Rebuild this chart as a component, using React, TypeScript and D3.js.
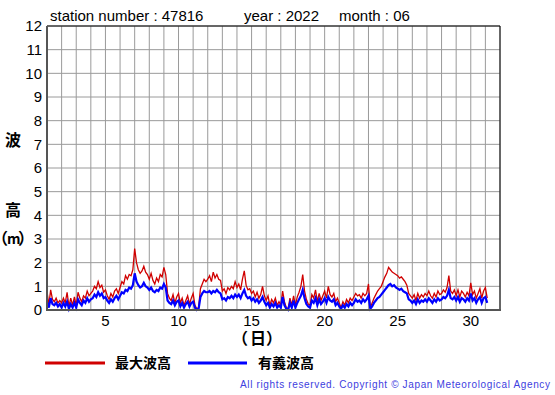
import React from 'react';
import * as d3 from 'd3';

// 3-hourly samples from June 1 00:00
const maxHeight = [
  0.8, 0.2, 0.85, 0.45, 0.35, 0.5, 0.3, 0.4, // 1
  0.3, 0.5, 0.3, 0.75, 0.15, 0.5, 0.2, 0.55, // 2
  0.2, 0.75, 0.5, 0.35, 0.6, 0.5, 0.8, 0.6, // 3
  0.7, 0.8, 1.0, 0.9, 1.2, 0.95, 1.05, 0.75, // 4
  0.85, 0.6, 0.45, 0.7, 0.55, 0.8, 0.9, 0.7, // 5
  0.95, 1.2, 1.1, 1.45, 1.3, 1.5, 1.45, 1.7, // 6
  2.6, 2.0, 1.7, 1.55, 1.65, 1.85, 1.6, 1.5, // 7
  1.3, 1.55, 1.25, 1.1, 1.35, 1.2, 1.5, 1.4, // 8
  1.8, 1.5, 0.7, 0.5, 0.4, 0.65, 0.3, 0.55, // 9
  0.7, 0.3, 0.5, 0.2, 0.4, 0.6, 0.25, 0.5, // 10
  0.7, 0.2, 0.05, 0.1, 0.9, 1.1, 1.3, 1.2, // 11
  1.3, 1.45, 1.2, 1.6, 1.35, 1.5, 1.3, 1.25, // 12
  0.8, 0.9, 0.7, 0.95, 0.85, 1.0, 0.9, 1.2, // 13
  0.95, 1.1, 0.85, 1.3, 1.65, 1.05, 0.85, 0.9, // 14
  0.7, 0.8, 0.55, 0.75, 0.5, 0.65, 1.0, 0.6, // 15
  0.4, 0.6, 0.2, 0.45, 0.3, 0.5, 0.2, 0.35, // 16
  0.2, 0.8, 0.35, 0.1, 0.05, 0.5, 0.2, 0.6, // 17
  0.2, 0.55, 0.75, 1.0, 1.5, 0.8, 0.45, 0.25, // 18
  0.2, 0.65, 0.5, 0.85, 0.35, 0.7, 0.4, 0.6, // 19
  0.8, 0.5, 1.0, 0.65, 0.55, 0.7, 0.35, 0.5, // 20
  0.3, 0.1, 0.35, 0.2, 0.45, 0.3, 0.5, 0.4, // 21
  0.55, 0.7, 0.6, 0.65, 0.5, 0.7, 0.6, 0.7, // 22
  1.1, 0.1, 0.3, 0.5, 0.65, 0.8, 0.9, 1.0, // 23
  1.2, 1.4, 1.55, 1.8, 1.7, 1.6, 1.55, 1.5, // 24
  1.45, 1.35, 1.4, 1.3, 1.2, 1.05, 0.7, 0.6, // 25
  0.5, 0.65, 0.4, 0.7, 0.5, 0.65, 0.55, 0.7, // 26
  0.6, 0.8, 0.6, 0.5, 0.7, 0.55, 0.8, 0.65, // 27
  0.7, 0.85, 0.75, 0.95, 1.45, 0.8, 0.7, 0.85, // 28
  0.6, 0.85, 0.55, 0.8, 0.7, 0.55, 0.75, 0.6, // 29
  1.15, 0.65, 0.8, 0.5, 0.7, 0.9, 0.5, 0.8, // 30
  0.95, 0.5, // 31
];

const sigHeight = [
  0.35, 0.1, 0.5, 0.25, 0.2, 0.3, 0.15, 0.25, // 1
  0.1, 0.3, 0.15, 0.35, 0.05, 0.25, 0.1, 0.3, // 2
  0.1, 0.45, 0.3, 0.2, 0.4, 0.3, 0.5, 0.35, // 3
  0.45, 0.5, 0.65, 0.55, 0.75, 0.6, 0.7, 0.5, // 4
  0.55, 0.4, 0.3, 0.45, 0.35, 0.5, 0.6, 0.45, // 5
  0.6, 0.75, 0.7, 0.85, 0.8, 0.95, 0.9, 1.05, // 6
  1.55, 1.2, 1.05, 0.95, 1.0, 1.15, 1.0, 0.95, // 7
  0.85, 0.95, 0.8, 0.75, 0.85, 0.8, 0.95, 0.9, // 8
  1.1, 0.95, 0.4, 0.3, 0.25, 0.4, 0.2, 0.35, // 9
  0.4, 0.15, 0.3, 0.1, 0.25, 0.35, 0.15, 0.3, // 10
  0.35, 0.1, 0.0, 0.05, 0.55, 0.7, 0.8, 0.75, // 11
  0.75, 0.8, 0.7, 0.8, 0.75, 0.85, 0.75, 0.7, // 12
  0.45, 0.5, 0.4, 0.55, 0.5, 0.6, 0.5, 0.65, // 13
  0.55, 0.65, 0.5, 0.7, 0.85, 0.6, 0.5, 0.55, // 14
  0.4, 0.5, 0.35, 0.45, 0.3, 0.4, 0.55, 0.35, // 15
  0.2, 0.3, 0.1, 0.25, 0.15, 0.3, 0.1, 0.2, // 16
  0.1, 0.55, 0.2, 0.05, 0.0, 0.3, 0.1, 0.4, // 17
  0.1, 0.3, 0.45, 0.6, 0.85, 0.5, 0.25, 0.15, // 18
  0.1, 0.4, 0.3, 0.5, 0.2, 0.45, 0.25, 0.35, // 19
  0.5, 0.3, 0.55, 0.4, 0.35, 0.45, 0.2, 0.3, // 20
  0.15, 0.05, 0.2, 0.1, 0.25, 0.15, 0.3, 0.2, // 21
  0.3, 0.45, 0.35, 0.4, 0.3, 0.45, 0.35, 0.45, // 22
  0.6, 0.05, 0.15, 0.3, 0.4, 0.5, 0.55, 0.65, // 23
  0.75, 0.85, 0.95, 1.05, 1.1, 1.0, 1.05, 0.95, // 24
  0.9, 0.85, 0.9, 0.8, 0.75, 0.7, 0.45, 0.4, // 25
  0.3, 0.4, 0.25, 0.45, 0.3, 0.4, 0.35, 0.45, // 26
  0.35, 0.5, 0.4, 0.3, 0.45, 0.35, 0.5, 0.4, // 27
  0.45, 0.55, 0.5, 0.6, 0.85, 0.5, 0.45, 0.55, // 28
  0.4, 0.55, 0.35, 0.5, 0.45, 0.35, 0.5, 0.4, // 29
  0.7, 0.4, 0.5, 0.3, 0.45, 0.55, 0.3, 0.5, // 30
  0.55, 0.3, // 31
];

const samplesPerDay = 8;
const yTicks = [0, 1, 2, 3, 4, 5, 6, 7, 8, 9, 10, 11, 12];
const xTickLabels = [5, 10, 15, 20, 25, 30];
const dayLines = d3.range(1, 33);

const W = 555;
const H = 395;
const left = 47;
const right = 500;
const top = 26;
const bottom = 310;

const font = '"Liberation Sans", Arial, sans-serif';
const jpFont = '"Noto Sans CJK JP", sans-serif';

export default function App() {
  const x = d3.scaleLinear().domain([1, 32]).range([left, right]);
  const y = d3.scaleLinear().domain([0, 12]).range([bottom, top]);

  const toPoints = (vals: number[]) =>
    vals.map((v, i) => ({ t: 1 + i / samplesPerDay, v }));

  const line = d3
    .line<{ t: number; v: number }>()
    .x(d => x(d.t))
    .y(d => y(d.v));

  return (
    <svg width={W} height={H} style={{ position: 'absolute', left: 0, top: 0, background: '#fff' }}>
      <rect x={0} y={0} width={W} height={H} fill="#fff" />

      {/* grid */}
      {dayLines.map(d => (
        <line key={'v' + d} x1={x(d)} x2={x(d)} y1={top} y2={bottom} stroke="#9a9a9a" strokeWidth={1} />
      ))}
      {yTicks.map(t => (
        <line key={'h' + t} x1={left} x2={right} y1={y(t)} y2={y(t)} stroke="#9a9a9a" strokeWidth={1} />
      ))}

      {/* data */}
      <path d={line(toPoints(maxHeight)) || ''} fill="none" stroke="#d00000" strokeWidth={1.3} />
      <path d={line(toPoints(sigHeight)) || ''} fill="none" stroke="#0000ff" strokeWidth={2.2} />

      {/* frame */}
      <line x1={left} x2={right} y1={top} y2={top} stroke="#000" />
      <line x1={right} x2={right} y1={top} y2={bottom} stroke="#000" />
      <line x1={left} x2={left} y1={top} y2={bottom + 1} stroke="#555" strokeWidth={2} />
      <line x1={left - 1} x2={right + 1} y1={bottom} y2={bottom} stroke="#555" strokeWidth={2} />

      {/* y tick labels */}
      {yTicks.map(t => (
        <text key={'yl' + t} x={42} y={y(t)} dy="0.36em" textAnchor="end" fontFamily={font} fontSize={15}>
          {t}
        </text>
      ))}
      {/* x tick labels */}
      {xTickLabels.map(t => (
        <text key={'xl' + t} x={x(t)} y={326} textAnchor="middle" fontFamily={font} fontSize={15}>
          {t}
        </text>
      ))}

      {/* title */}
      <text x={50} y={21} fontFamily={font} fontSize={15}>station number : 47816</text>
      <text x={244} y={21} fontFamily={font} fontSize={15}>year : 2022</text>
      <text x={339} y={21} fontFamily={font} fontSize={15}>month : 06</text>

      {/* axis titles */}
      <text x={13} y={146} textAnchor="middle" fontFamily={jpFont} fontSize={16} fontWeight="bold">波</text>
      <text x={13} y={216} textAnchor="middle" fontFamily={jpFont} fontSize={16} fontWeight="bold">高</text>
      <text y={244} fontFamily={jpFont} fontSize={16} fontWeight="bold">
        <tspan x={-8}>（</tspan>
        <tspan x={7} fontSize={14}>m</tspan>
        <tspan x={18}>）</tspan>
      </text>
      <text y={344} fontFamily={jpFont} fontSize={16} fontWeight="bold">
        <tspan x={232}>（</tspan>
        <tspan x={250}>日</tspan>
        <tspan x={266}>）</tspan>
      </text>

      {/* legend */}
      <line x1={45} x2={105} y1={363} y2={363} stroke="#d00000" strokeWidth={3} />
      <text x={115} y={368} fontFamily={jpFont} fontSize={14} fontWeight="bold">最大波高</text>
      <line x1={188} x2={247} y1={363} y2={363} stroke="#0000ff" strokeWidth={3} />
      <text x={258} y={368} fontFamily={jpFont} fontSize={14} fontWeight="bold">有義波高</text>

      <text x={240} y={388} fontFamily={font} fontSize={10} fill="#4040e0" textLength={310} lengthAdjust="spacing">
        All rights reserved. Copyright © Japan Meteorological Agency
      </text>
    </svg>
  );
}
